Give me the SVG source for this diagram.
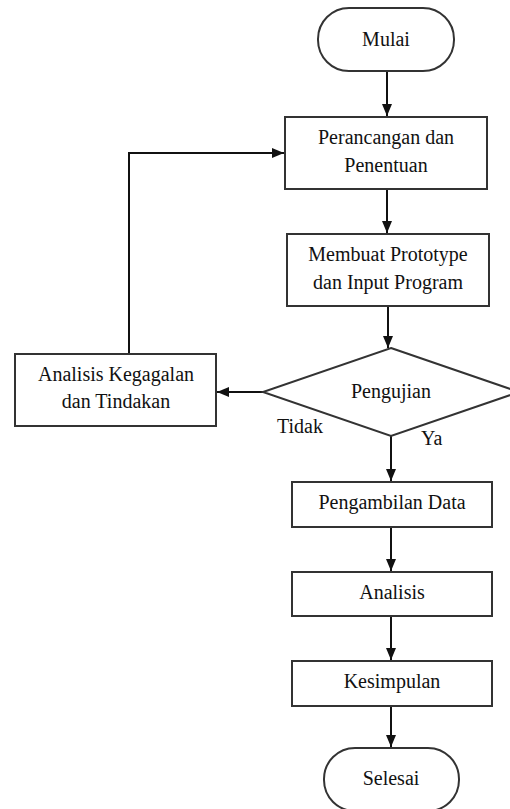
<svg xmlns="http://www.w3.org/2000/svg" width="510" height="809" viewBox="0 0 510 809">
<style>
.s{fill:#fff;stroke:#333;stroke-width:2}
.c{fill:none;stroke:#111;stroke-width:2}
text{font-family:"Liberation Serif","Times New Roman",serif;font-size:20px;fill:#111;text-anchor:middle}
.l{text-anchor:start}
</style>
<defs>
<marker id="ah" viewBox="0 0 12 10" refX="12" refY="5" markerWidth="12" markerHeight="10" markerUnits="userSpaceOnUse" orient="auto">
<path d="M0,0 L12,5 L0,10 Z" fill="#111"/>
</marker>
</defs>
<rect width="510" height="809" fill="#fff"/>
<g id="connectors">
<line class="c" x1="387" y1="71" x2="387" y2="116" marker-end="url(#ah)"/>
<line class="c" x1="387" y1="189" x2="387" y2="233" marker-end="url(#ah)"/>
<line class="c" x1="388" y1="306" x2="388" y2="348" marker-end="url(#ah)"/>
<line class="c" x1="263" y1="392" x2="217" y2="392" marker-end="url(#ah)"/>
<polyline class="c" points="129,354 129,153 284,153" marker-end="url(#ah)"/>
<line class="c" x1="391" y1="436" x2="391" y2="481" marker-end="url(#ah)"/>
<line class="c" x1="391" y1="527" x2="391" y2="571" marker-end="url(#ah)"/>
<line class="c" x1="391" y1="616" x2="391" y2="660" marker-end="url(#ah)"/>
<line class="c" x1="391" y1="706" x2="391" y2="747" marker-end="url(#ah)"/>
<text class="l" x="277" y="433">Tidak</text>
<text class="l" x="421" y="445">Ya</text>
</g>
<g id="mulai">
<rect class="s" x="318" y="8" width="136" height="63" rx="31" ry="31"/>
<text x="386" y="46">Mulai</text>
</g>
<g id="perancangan">
<rect class="s" x="285" y="117" width="202" height="72"/>
<text x="386" y="144">Perancangan dan</text>
<text x="386" y="172">Penentuan</text>
</g>
<g id="prototype">
<rect class="s" x="287" y="234" width="202" height="72"/>
<text x="388" y="261">Membuat Prototype</text>
<text x="388" y="289">dan Input Program</text>
</g>
<g id="pengujian">
<polygon class="s" points="391,348 519,392 391,436 263,392"/>
<text x="391" y="398">Pengujian</text>
</g>
<g id="analisis-kegagalan">
<rect class="s" x="15" y="354" width="201" height="72"/>
<text x="116" y="381">Analisis Kegagalan</text>
<text x="116" y="408">dan Tindakan</text>
</g>
<g id="pengambilan">
<rect class="s" x="292" y="482" width="200" height="45"/>
<text x="392" y="509">Pengambilan Data</text>
</g>
<g id="analisis">
<rect class="s" x="292" y="572" width="200" height="44"/>
<text x="392" y="599">Analisis</text>
</g>
<g id="kesimpulan">
<rect class="s" x="292" y="661" width="200" height="45"/>
<text x="392" y="688">Kesimpulan</text>
</g>
<g id="selesai">
<rect class="s" x="324" y="748" width="135" height="63" rx="31" ry="31"/>
<text x="391" y="785">Selesai</text>
</g>
</svg>
